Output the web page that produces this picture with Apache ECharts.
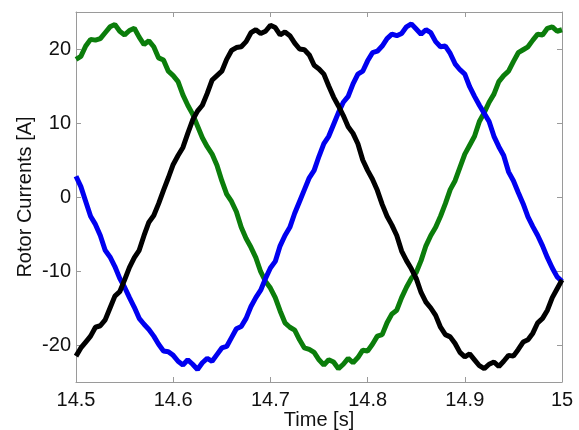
<!DOCTYPE html>
<html>
<head>
<meta charset="utf-8">
<script src="https://cdn.jsdelivr.net/npm/echarts@6/dist/echarts.min.js"></script>
<style>
html,body{margin:0;padding:0;background:#fff;}
#chart{width:579px;height:430px;}
</style>
</head>
<body>
<div id="chart"></div>
<script>
// time axis: 14.5 s to 15.0 s, one sample every 5 ms
const tStart = 14.5;
const tStep = 0.005;
const xTicks = [14.5,14.6,14.7,14.8,14.9,15];
const yTicks = [-20,-10,0,10,20];

const greenPhase = [18.6,19.0,20.4,21.3,21.2,21.4,22.2,23.0,23.3,22.4,
  21.9,22.5,22.8,21.6,20.6,21.1,20.3,18.8,18.5,17.0,
  16.4,15.6,13.8,12.4,11.2,9.6,8.0,6.8,5.8,4.3,
  2.2,0.4,-0.6,-2.0,-4.1,-5.6,-6.8,-8.2,-10.1,-11.4,
  -12.3,-13.6,-15.4,-17.0,-17.6,-18.0,-19.3,-20.4,-20.6,-21.0,
  -22.0,-22.7,-22.0,-22.3,-23.2,-22.6,-21.8,-22.4,-21.7,-20.7,
  -20.8,-19.9,-18.8,-18.6,-17.0,-15.8,-15.3,-13.6,-12.2,-11.0,
  -10.2,-8.6,-6.6,-5.2,-4.1,-2.6,-0.9,1.0,2.2,4.0,
  5.8,7.0,8.2,10.2,11.4,12.8,13.9,15.6,16.4,17.0,
  18.3,19.5,19.9,20.3,21.2,22.0,21.9,22.8,23.0,22.4,22.6];

const blackPhase = [-21.5,-20.4,-19.6,-18.8,-17.6,-17.4,-16.6,-15.0,-13.4,-12.8,
  -11.2,-9.5,-8.2,-7.2,-5.2,-3.4,-2.5,-0.9,0.9,2.6,
  4.4,5.6,6.7,8.6,10.4,11.6,12.4,14.0,15.8,16.4,
  17.0,18.6,19.8,20.2,20.3,21.0,22.2,22.6,22.1,22.4,
  23.2,22.9,21.9,22.3,21.8,20.8,20.0,19.9,19.2,17.8,
  17.3,16.6,15.0,13.5,12.3,11.0,9.5,8.6,7.2,5.0,
  3.6,2.4,0.9,-1.0,-2.6,-3.8,-5.2,-7.3,-8.6,-9.7,
  -11.0,-12.9,-14.2,-15.0,-16.0,-17.6,-18.6,-18.9,-19.8,-21.0,
  -21.6,-21.2,-22.0,-22.8,-23.2,-22.6,-22.3,-22.9,-22.2,-21.4,
  -21.5,-20.6,-19.6,-19.3,-18.4,-17.0,-16.4,-15.3,-13.6,-12.4,-11.2];

const bluePhase = [2.8,1.4,-0.6,-2.6,-3.7,-5.2,-7.2,-8.1,-9.4,-11.0,
  -12.2,-13.6,-14.9,-16.4,-17.2,-17.9,-18.8,-19.9,-20.8,-20.9,
  -21.4,-22.2,-22.7,-22.0,-22.6,-23.3,-22.4,-21.8,-22.2,-21.3,
  -20.4,-20.2,-19.0,-17.8,-17.5,-16.4,-14.8,-13.6,-12.6,-11.0,
  -9.6,-8.7,-6.6,-5.2,-4.1,-2.2,-0.6,1.0,2.6,3.6,
  5.5,7.2,8.2,9.8,11.4,12.8,13.6,15.3,16.6,17.0,
  18.4,19.5,19.7,20.4,21.4,22.0,21.8,22.1,23.0,23.4,
  22.7,22.0,22.6,22.2,21.0,20.3,20.4,19.4,18.0,17.2,
  16.6,14.9,13.6,12.4,11.3,10.2,8.2,6.8,5.6,3.4,
  2.2,0.6,-0.9,-2.7,-4.0,-5.2,-6.6,-8.2,-9.6,-10.8,-11.4];

function pairs(arr){
  return arr.map((v,i)=>[+(tStart + i*tStep).toFixed(4), v]);
}

const font = 'Liberation Sans, Arial, sans-serif';
const axisCol = '#9a9a9a';
const chart = echarts.init(document.getElementById('chart'), null, {renderer:'canvas'});

function xAxisDef(pos, labels){
  return {
    type:'value', min:14.5, max:15, position:pos,
    axisLine:{show:true, onZero:false, lineStyle:{color:axisCol, width:1}},
    axisTick:{show:true, inside:true, length:5, customValues:xTicks, lineStyle:{color:axisCol}},
    axisLabel:{show:labels, customValues:xTicks, margin:8, fontFamily:font, fontSize:20, color:'#111',
      formatter:(v)=>String(Math.round(v*10)/10)},
    splitLine:{show:false}
  };
}
function yAxisDef(pos, labels){
  return {
    type:'value', min:-25, max:25, position:pos,
    axisLine:{show:true, onZero:false, lineStyle:{color:axisCol, width:1}},
    axisTick:{show:true, inside:true, length:5, customValues:yTicks, lineStyle:{color:axisCol}},
    axisLabel:{show:labels, customValues:yTicks, margin:5, fontFamily:font, fontSize:20, color:'#111',
      formatter:(v)=>String(Math.round(v))},
    splitLine:{show:false}
  };
}

const xb = xAxisDef('bottom', true);
xb.name = 'Time [s]'; xb.nameLocation = 'middle'; xb.nameGap = 28; xb.nameMoveOverlap = false;
xb.nameTextStyle = {fontFamily:font, fontSize:20, color:'#111'};
const yl = yAxisDef('left', true);
yl.name = 'Rotor Currents [A]'; yl.nameLocation = 'middle'; yl.nameGap = 41; yl.nameMoveOverlap = false;
yl.nameTextStyle = {fontFamily:font, fontSize:20, color:'#111'};

chart.setOption({
  animation:false,
  backgroundColor:'#fff',
  grid:{left:76, right:17, top:12, bottom:48, containLabel:false, outerBoundsMode:'none'},
  xAxis:[xb, xAxisDef('top', false)],
  yAxis:[yl, yAxisDef('right', false)],
  series:[
    {type:'line', name:'green', data:pairs(greenPhase), xAxisIndex:0, yAxisIndex:0,
      showSymbol:false, lineStyle:{color:'#0b7d0b', width:5}, z:2},
    {type:'line', name:'blue', data:pairs(bluePhase), xAxisIndex:0, yAxisIndex:0,
      showSymbol:false, lineStyle:{color:'#0000f0', width:5}, z:3},
    {type:'line', name:'black', data:pairs(blackPhase), xAxisIndex:0, yAxisIndex:0,
      showSymbol:false, lineStyle:{color:'#000000', width:5}, z:4}
  ]
});
</script>
</body>
</html>
